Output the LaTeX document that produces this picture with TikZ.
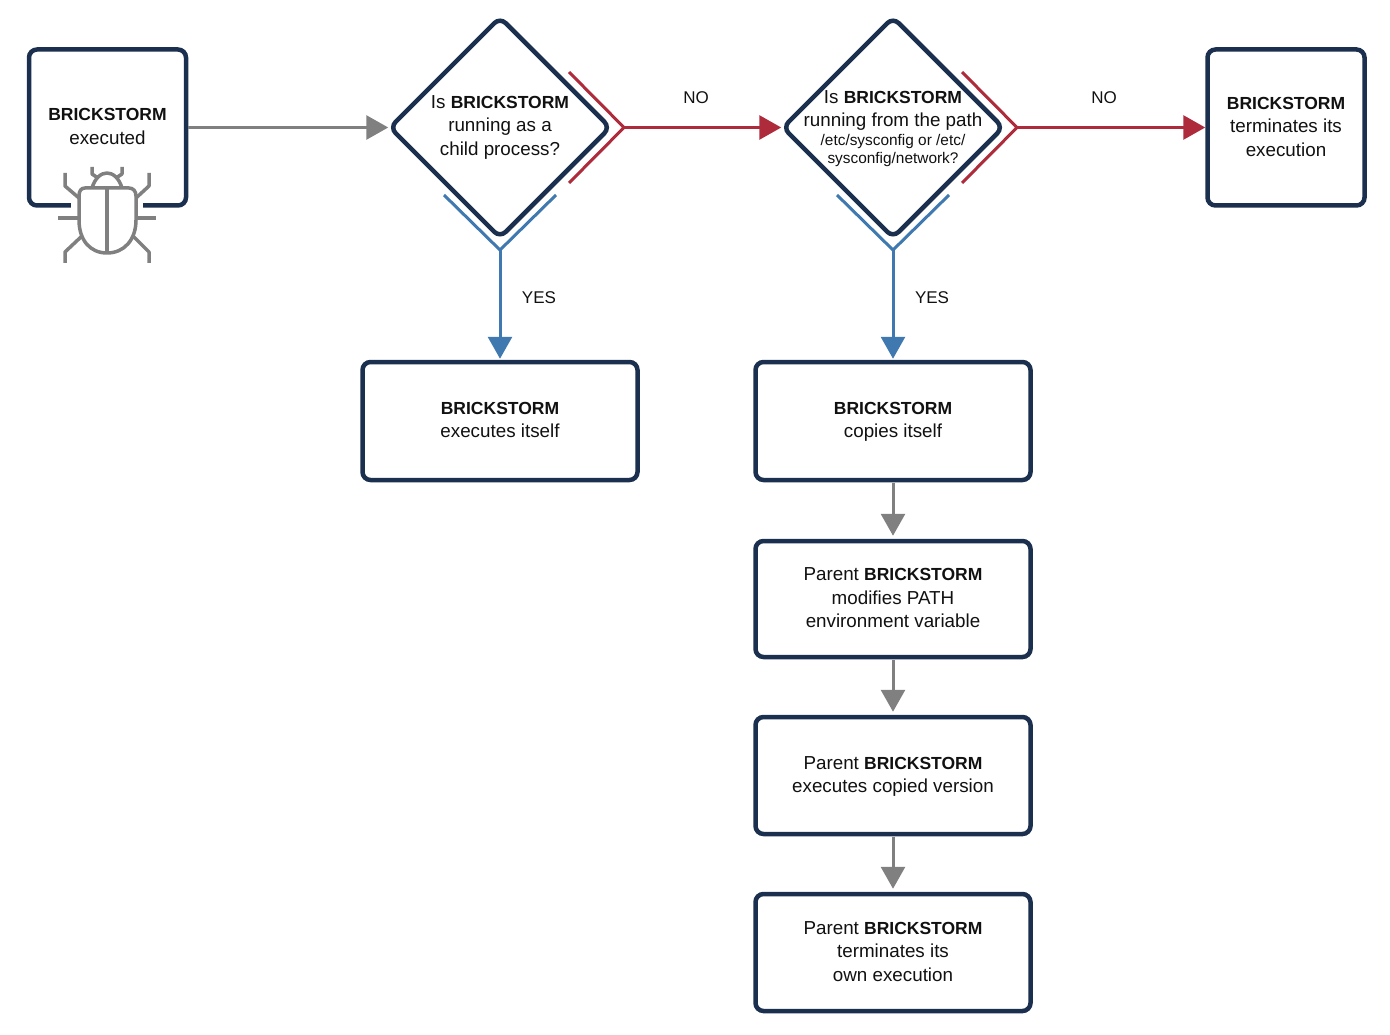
\documentclass[tikz,border=0pt]{standalone}
\usepackage{fontspec}
\setmainfont{Liberation Sans}
\usetikzlibrary{shapes.geometric,arrows.meta}
\definecolor{navy}{HTML}{1B2F4E}
\definecolor{redc}{HTML}{AE2B3B}
\definecolor{bluec}{HTML}{4079B0}
\definecolor{grayc}{HTML}{808080}
\definecolor{ink}{HTML}{111111}
\tikzset{
  x=1pt,y=-1pt,
  txt/.style={font=\fontsize{18.8}{23.5}\selectfont,text=ink,align=center,inner sep=0pt,
    execute at begin node=\strut,execute at end node=\strut},
  intxt/.style={txt,yshift=-2.5pt},
  box/.style={draw=navy,line width=4.5pt,rounded corners=8pt,fill=white,inner sep=0pt},
  square/.style={box,minimum width=157pt,minimum height=156pt},
  dec/.style={diamond,draw=navy,line width=4.5pt,rounded corners=8pt,fill=white,inner sep=0pt,minimum width=222pt,minimum height=222pt},
  fork/.style={line width=3pt},
  flow/.style={line width=3pt,-{Triangle[length=22pt,width=24pt]}},
  lab/.style={font=\fontsize{17}{20}\selectfont,text=ink,inner sep=0pt},
  bug/.style={draw=grayc,line width=3.5pt,line join=round}
}
\newcommand{\BS}{{\fontsize{17.5}{23.5}\selectfont\bfseries BRICKSTORM}}
\newcommand{\SM}{\fontsize{15.4}{17}\selectfont}
\begin{document}
\begin{tikzpicture}
\useasboundingbox (0,0) rectangle (1390,1035);
% shapes
\node[square] (start) at (107.5,127.5) {};
\node[dec] (d1) at (500,127.5) {};
\node[dec] (d2) at (893,127.5) {};
\node[square] (end) at (1286,127.5) {};
\node[box,minimum width=275pt,minimum height=118pt] (b1) at (500,421) {};
\node[box,minimum width=275pt,minimum height=118pt] (b2) at (893,421) {};
\node[box,minimum width=275pt,minimum height=116pt] (b3) at (893,599) {};
\node[box,minimum width=275pt,minimum height=117pt] (b4) at (893,775.5) {};
\node[box,minimum width=275pt,minimum height=117pt] (b5) at (893,952.5) {};
% texts
\node[intxt] (startt) at (start.center) {\BS\\executed};
\node[txt] (d1t) at (500,129) {Is \BS\\running as a\\child process?};
\node[txt] (d2t) at (893,130.5) {Is \BS\\running from the path\\[-4.5pt]{\SM /etc/sysconfig or /etc/}\\[-5.5pt]{\SM sysconfig/network?}};
\node[intxt] (endt) at (end.center) {\BS\\terminates its\\execution};
\node[intxt] (b1t) at (b1.center) {\BS\\executes itself};
\node[intxt] (b2t) at (b2.center) {\BS\\copies itself};
\node[intxt] (b3t) at (b3.center) {Parent \BS\\modifies PATH\\environment variable};
\node[intxt] (b4t) at (b4.center) {Parent \BS\\executes copied version};
\node[intxt] (b5t) at (b5.center) {Parent \BS\\terminates its\\own execution};
% forks
\coordinate (r1) at (624,127.5);
\coordinate (r2) at (1017,127.5);
\coordinate (y1) at (500,250);
\coordinate (y2) at (893,250);
\coordinate (r1a) at (569,72); \coordinate (r1b) at (569,183);
\coordinate (r2a) at (962,72); \coordinate (r2b) at (962,183);
\coordinate (y1a) at (444,195); \coordinate (y1b) at (556,195);
\coordinate (y2a) at (837,195); \coordinate (y2b) at (949,195);
\draw[fork,redc] (r1a) -- (r1) -- (r1b);
\draw[fork,redc] (r2a) -- (r2) -- (r2b);
\draw[fork,bluec] (y1a) -- (y1) -- (y1b);
\draw[fork,bluec] (y2a) -- (y2) -- (y2b);
% connectors
\draw[flow,grayc,shorten >=-1.5pt] (start.east) -- (d1.west);
\draw[flow,redc,shorten >=-1.5pt] (r1) -- (d2.west);
\draw[flow,redc] (r2) -- (end.west);
\draw[flow,bluec,shorten >=1pt] (y1) -- (b1.north);
\draw[flow,bluec,shorten >=1pt] (y2) -- (b2.north);
\draw[flow,grayc,shorten <=1pt,shorten >=3pt] (b2.south) -- (b3.north);
\draw[flow,grayc,shorten <=1pt,shorten >=3pt] (b3.south) -- (b4.north);
\draw[flow,grayc,shorten <=1pt,shorten >=3pt] (b4.south) -- (b5.north);
% labels
\node[lab] (no1) at (696,97.5) {NO};
\node[lab] (no2) at (1104,97.5) {NO};
\node[lab] (yes1) at (539,297.5) {YES};
\node[lab] (yes2) at (932,297.5) {YES};
% bug
\fill[white] (71,190) rectangle (143,212);
\draw[bug] (85,188) -- (129,188) .. controls (133,188) and (136,191) .. (136,196)
  -- (136,220) .. controls (136,240) and (124,253) .. (107,253)
  .. controls (90,253) and (79,240) .. (79,220) -- (79,196)
  .. controls (79,191) and (81,188) .. (85,188) -- cycle;
\draw[bug] (107,189) -- (107,253);
\draw[bug] (92,188) .. controls (95,178) and (101,173) .. (107,173) .. controls (113,173) and (119,178) .. (122,188);
\draw[bug] (92,167) -- (92,174) -- (98,178);
\draw[bug] (122,167) -- (122,174) -- (116,178);
\draw[bug] (65,173) -- (65,186) -- (79,198);
\draw[bug] (149,173) -- (149,186) -- (136,198);
\draw[bug] (58,218) -- (79,218);
\draw[bug] (156,218) -- (136,218);
\draw[bug] (65,263) -- (65,252) -- (82,236);
\draw[bug] (149,263) -- (149,252) -- (133,236);
\end{tikzpicture}
\end{document}
